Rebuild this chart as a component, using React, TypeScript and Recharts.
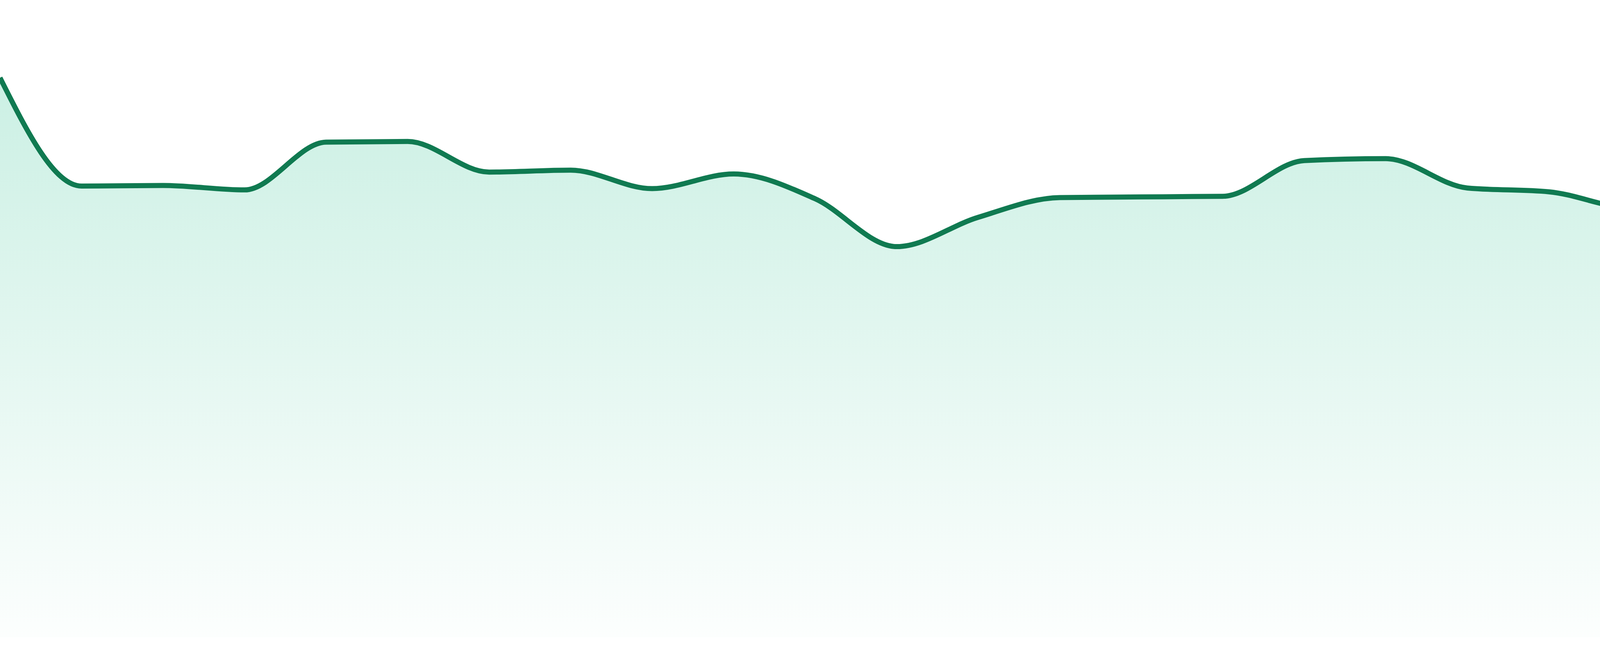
import React from 'react';
import { AreaChart, Area, XAxis, YAxis } from 'recharts';

// one point per day
const days = [
  'D1', 'D2', 'D3', 'D4', 'D5', 'D6', 'D7', 'D8', 'D9', 'D10', 'D11', 'D12',
  'D13', 'D14', 'D15', 'D16', 'D17', 'D18', 'D19', 'D20', 'D21', 'D22', 'D23', 'D24',
];

const values = [
  87.8, 70.8, 70.9, 70.2, 77.7, 77.8, 73.0, 73.3, 70.4, 72.7, 68.8, 61.3,
  65.9, 69.0, 69.1, 69.2, 74.8, 75.1, 70.5, 69.9, 67.3, 67.0, 61.0, 55.0,
];

const LINE = '#107a51';
const FILL = '#10b981';

const data = days.map((day, i) => ({ day, value: values[i] }));

export default function App() {
  return (
    <div style={{ position: 'absolute', left: 0, top: 0, width: 4800, height: 1680, background: '#ffffff' }}>
      <AreaChart width={4800} height={1680} data={data} margin={{ top: 0, right: 0, left: 0, bottom: 48 }}>
        <defs>
          <linearGradient id="areaFill" x1="0" y1="0" x2="0" y2="1">
            <stop offset="0%" stopColor={FILL} stopOpacity={0.36} />
            <stop offset="100%" stopColor={FILL} stopOpacity={0.02} />
          </linearGradient>
        </defs>
        <XAxis dataKey="day" hide />
        <YAxis hide domain={[0, 100]} />
        <Area
          type="monotone"
          dataKey="value"
          stroke={LINE}
          strokeWidth={13}
          fill="url(#areaFill)"
          dot={false}
          activeDot={false}
          isAnimationActive={false}
        />
      </AreaChart>
    </div>
  );
}
